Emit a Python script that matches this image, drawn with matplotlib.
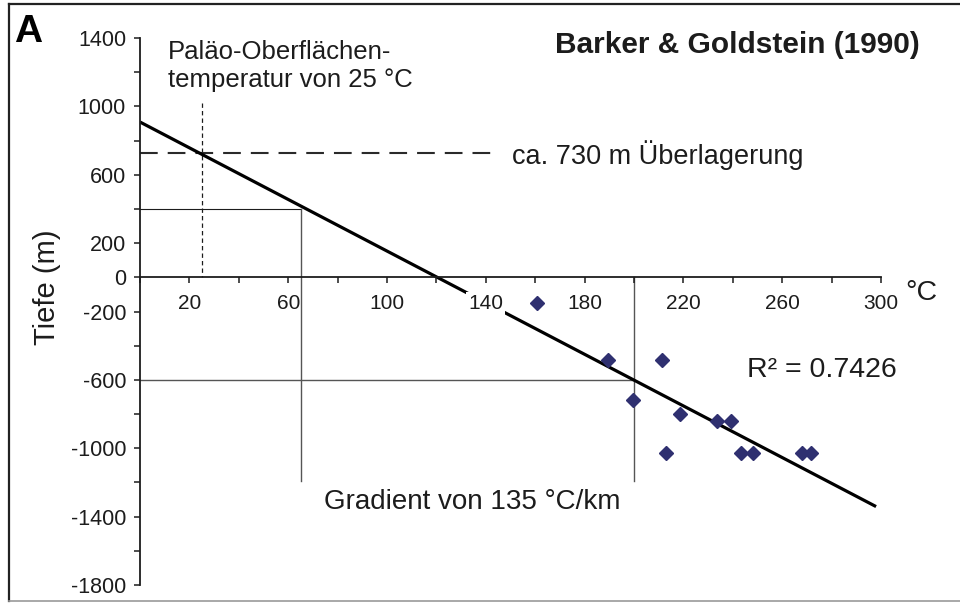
import numpy as np
import matplotlib
matplotlib.use("Agg")
import matplotlib.pyplot as plt
from matplotlib.lines import Line2D

plt.rcParams["font.family"] = ["Liberation Sans", "DejaVu Sans"]

# Fluid-inclusion temperatures (°C) against depth (m)
temp_c = [160.6, 189.6, 211.2, 199.7, 218.6, 233.7, 239.3, 212.8, 243.2, 248.3, 267.9, 271.5]
depth_m = [-148, -485, -485, -720, -797, -842, -842, -1027, -1027, -1027, -1027, -1027]

x_ticks = list(range(0, 301, 20))
x_labels = ["20", "60", "100", "140", "180", "220", "260", "300"]
y_ticks = list(range(-1800, 1401, 200))
y_labels = ["1400", "1000", "600", "200", "0", "-200", "-600", "-1000", "-1400", "-1800"]

surface_temp = 25        # palaeo-surface temperature, °C
overburden = 730         # approx. overburden, m
grad_top = (65, 400)     # construction of the gradient
grad_bottom = (200, -600)

W, H = 960, 603
fig = plt.figure(figsize=(W / 100, H / 100), dpi=100)


def px(x, y):
    return x / W, 1 - y / H


ax = fig.add_axes([140 / W, 1 - 585 / H, 741 / W, 547 / H])
ax.set_xlim(0, 300)
ax.set_ylim(-1800, 1400)

ink = "#1c1c1c"
for side in ("top", "right"):
    ax.spines[side].set_visible(False)
ax.spines["bottom"].set_position(("data", 0))
for side in ("left", "bottom"):
    ax.spines[side].set_linewidth(1.3)
    ax.spines[side].set_color(ink)

ax.set_xticks(x_ticks)
ax.set_xticklabels([str(v) if str(v) in x_labels else "" for v in x_ticks])
ax.set_yticks(y_ticks)
ax.set_yticklabels([str(v) if str(v) in y_labels else "" for v in y_ticks])
ax.tick_params(axis="x", direction="out", length=4, width=1.1, color=ink,
               labelsize=15, labelcolor=ink, pad=8)
ax.tick_params(axis="y", direction="out", length=4, width=1.1, color=ink,
               labelsize=15.5, labelcolor=ink, pad=6)
ax.set_axisbelow(False)
for lbl in ax.get_xticklabels():
    if lbl.get_text() == "140":
        lbl.set_bbox(dict(facecolor="white", edgecolor="none", pad=1.5))

# regression line through the inclusion data
slope, intercept = np.polyfit(temp_c, depth_m, 1)
xs = np.array([0, 298])
ax.plot(xs, slope * xs + intercept, color="black", lw=2.3, solid_capstyle="butt", zorder=2)

# construction lines
grey = "#555555"
ax.plot([0, grad_top[0]], [grad_top[1], grad_top[1]], color=ink, lw=0.8, zorder=1)
ax.plot([grad_top[0], grad_top[0]], [grad_top[1], -1193], color=grey, lw=1.0, zorder=1)
ax.plot([0, grad_bottom[0]], [grad_bottom[1], grad_bottom[1]], color=grey, lw=1.0, zorder=1)
ax.plot([grad_bottom[0], grad_bottom[0]], [0, -1193], color=grey, lw=1.0, zorder=1)
ax.plot([surface_temp, surface_temp], [1017, 0], color=ink, lw=0.9,
        linestyle=(0, (3.5, 2.5)), zorder=1)
ax.plot([0, 143], [overburden, overburden], color="#2a2a2a", lw=1.5,
        linestyle=(0, (8.5, 4.8)), zorder=1)

# data points
ax.plot(temp_c, depth_m, linestyle="none", marker="D", ms=6.8,
        color="#2f3070", markeredgecolor="#2f3070", zorder=3)

# annotations
fig.text(*px(168, 66), "Paläo-Oberflächen-\ntemperatur von 25 °C", fontsize=18.5,
         color=ink, ha="left", va="center", linespacing=1.2)
fig.text(*px(512, 155), "ca. 730 m Überlagerung", fontsize=19.5, color=ink,
         ha="left", va="center")
fig.text(*px(472, 502), "Gradient von 135 °C/km", fontsize=20, color=ink,
         ha="center", va="center")
fig.text(*px(747, 370), "R² = 0.7426", fontsize=20.5, color=ink,
         ha="left", va="center")
fig.text(*px(905, 293), "°C", fontsize=20.5, color=ink, ha="left", va="center")
fig.text(*px(737, 45), "Barker & Goldstein (1990)", fontsize=21.5,
         fontweight="bold", color=ink, ha="center", va="center")
fig.text(*px(28, 32), "A", fontsize=28, fontweight="bold", color="black",
         ha="center", va="center")
fig.text(*px(47, 287), "Tiefe (m)", fontsize=21, color=ink, rotation=90,
         ha="center", va="center")

# panel frame
fig.add_artist(Line2D([9 / W, 9 / W], [1 - 601 / H, 1 - 4 / H], color="#222222", lw=1.6))
fig.add_artist(Line2D([9 / W, 1.0], [1 - 4 / H, 1 - 4 / H], color="#222222", lw=1.6))
fig.add_artist(Line2D([9 / W, 1.0], [1 - 601 / H, 1 - 601 / H], color="#999999", lw=1.2))

fig.savefig("out.png", dpi=100, facecolor="white")
